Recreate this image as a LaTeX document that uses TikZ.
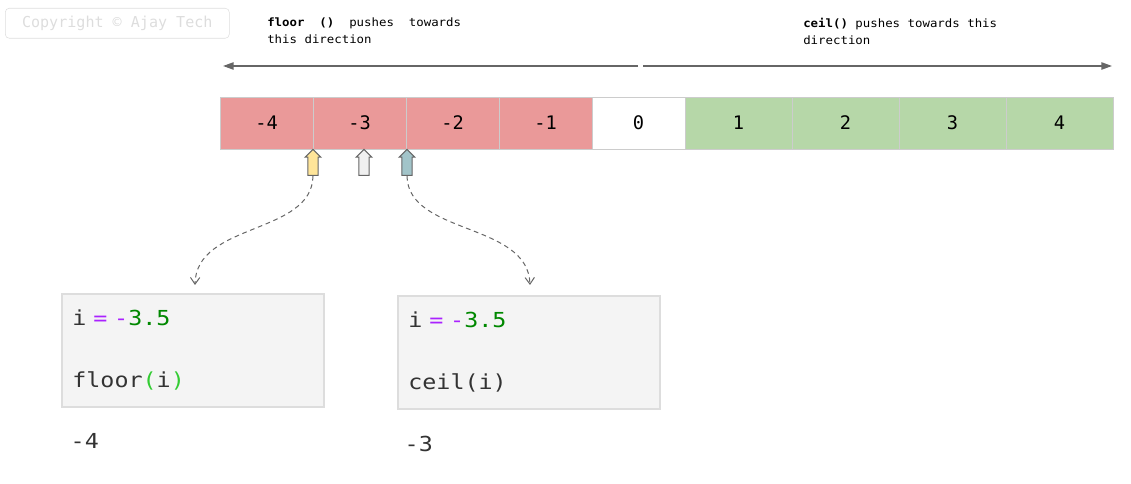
\documentclass[tikz,border=0pt]{standalone}
\usepackage{fontspec}
\setmonofont{DejaVu Sans Mono}
\newfontfamily\codefamily[FakeStretch=1.13]{DejaVu Sans Mono}
\newfontfamily\hintfamily[FakeStretch=1.08]{DejaVu Sans Mono}
\usepackage{xcolor}
\usetikzlibrary{shapes.arrows,arrows.meta,positioning}
\definecolor{negfill}{HTML}{EA9999}
\definecolor{posfill}{HTML}{B6D7A8}
\definecolor{cellline}{HTML}{CCCCCC}
\definecolor{axisgrey}{HTML}{666666}
\definecolor{floorfill}{HTML}{FFE599}
\definecolor{midfill}{HTML}{F0F0F0}
\definecolor{ceilfill}{HTML}{A2C4C9}
\definecolor{codebg}{HTML}{F4F4F4}
\definecolor{codeline}{HTML}{DDDDDD}
\definecolor{oppurple}{HTML}{AA22FF}
\definecolor{numgreen}{HTML}{008800}
\definecolor{parengreen}{HTML}{33CC33}
\definecolor{codeink}{HTML}{333333}
\newcommand{\codefont}{\codefamily\fontsize{15.5}{46.5}\selectfont}

\begin{document}
\begin{tikzpicture}[x=0.75pt,y=-0.75pt,
    numcell/.style={rectangle, draw=cellline, minimum height=39pt, inner sep=0pt,
        outer sep=0pt, font=\ttfamily\fontsize{14}{16}\selectfont},
    negcell/.style={numcell, fill=negfill, minimum width=69.75pt},
    zerocell/.style={numcell, fill=white, minimum width=69.75pt},
    poscell/.style={numcell, fill=posfill, minimum width=80.25pt},
    marker/.style={single arrow, draw=axisgrey, line width=0.8pt, rotate=90,
        minimum height=19.5pt, minimum width=10pt, single arrow head extend=2pt,
        inner sep=3.4pt},
    codebox/.style={rectangle, draw=codeline, line width=1.5pt, fill=codebg,
        anchor=north west, minimum width=196.5pt, minimum height=84.75pt,
        inner xsep=7.5pt, text width=181pt, align=left, font=\codefont, text=codeink},
    hint/.style={anchor=north west, align=left, inner sep=0pt,
        font=\hintfamily\fontsize{8.6}{12.75}\selectfont},
    pushline/.style={axisgrey, line width=1.1pt, -{Triangle[length=8pt,width=5.5pt]}},
    pick/.style={axisgrey, dash pattern=on 3.5pt off 2.8pt, line width=0.75pt,
        -{Straight Barb[length=5pt,width=7pt]}},
    >=Stealth
]
\useasboundingbox (0,0) rectangle (1131,484);

% watermark
\node[draw=codeline, rounded corners=3pt, anchor=north west, minimum width=168pt,
    minimum height=22.5pt, text=codeline, font=\ttfamily\fontsize{11.3}{13}\selectfont]
    (mark) at (5,8) {Copyright © Ajay Tech};

% direction hints
\node[hint] (floorhint) at (267,18) {\textbf{floor}\ \ \textbf{()}\ \ pushes\ \ towards\\this direction};
\node[hint] (ceilhint) at (803,18) {\textbf{ceil()} pushes towards this\\direction};
\coordinate (mid left) at (638,66);
\coordinate (far left) at (223,66);
\coordinate (mid right) at (643,66);
\coordinate (far right) at (1112,66);
\draw[pushline] (mid left) -- (far left);
\draw[pushline] (mid right) -- (far right);

% number line
\node[negcell, anchor=north west] (cm4) at (220,97) {-4};
\node[negcell, right=0pt of cm4] (cm3) {-3};
\node[negcell, right=0pt of cm3] (cm2) {-2};
\node[negcell, right=0pt of cm2] (cm1) {-1};
\node[zerocell, right=0pt of cm1] (c0) {0};
\node[poscell, right=0pt of c0] (c1) {1};
\node[poscell, right=0pt of c1] (c2) {2};
\node[poscell, right=0pt of c2] (c3) {3};
\node[poscell, right=0pt of c3] (c4) {4};

% markers under the line
\node[marker, fill=floorfill] (floormark) at (313,165) {};
\node[marker, fill=midfill] (valmark) at (364,165) {};
\node[marker, fill=ceilfill] (ceilmark) at (407,165) {};

% code boxes
\node[codebox] (floorbox) at (61,293)
    {i \textcolor{oppurple}{= -}\textcolor{numgreen}{3.5}\\floor\textcolor{parengreen}{(}i\textcolor{parengreen}{)}};
\node[codebox] (ceilbox) at (397,295)
    {i \textcolor{oppurple}{= -}\textcolor{numgreen}{3.5}\\ceil(i)};
\node[anchor=west, text=codeink, font=\codefamily\fontsize{15.5}{18}\selectfont] (floorout) at (66,441) {-4};
\node[anchor=west, text=codeink, font=\codefamily\fontsize{15.5}{18}\selectfont] (ceilout) at (400,444) {-3};

% dashed pointers
\coordinate (floortip) at (195,285);
\coordinate (ceiltip) at (530,285);
\draw[pick] (floormark.west) .. controls (312,235) and (196,222) .. (floortip);
\draw[pick] (ceilmark.west) .. controls (408,235) and (528,222) .. (ceiltip);
\end{tikzpicture}
\end{document}
